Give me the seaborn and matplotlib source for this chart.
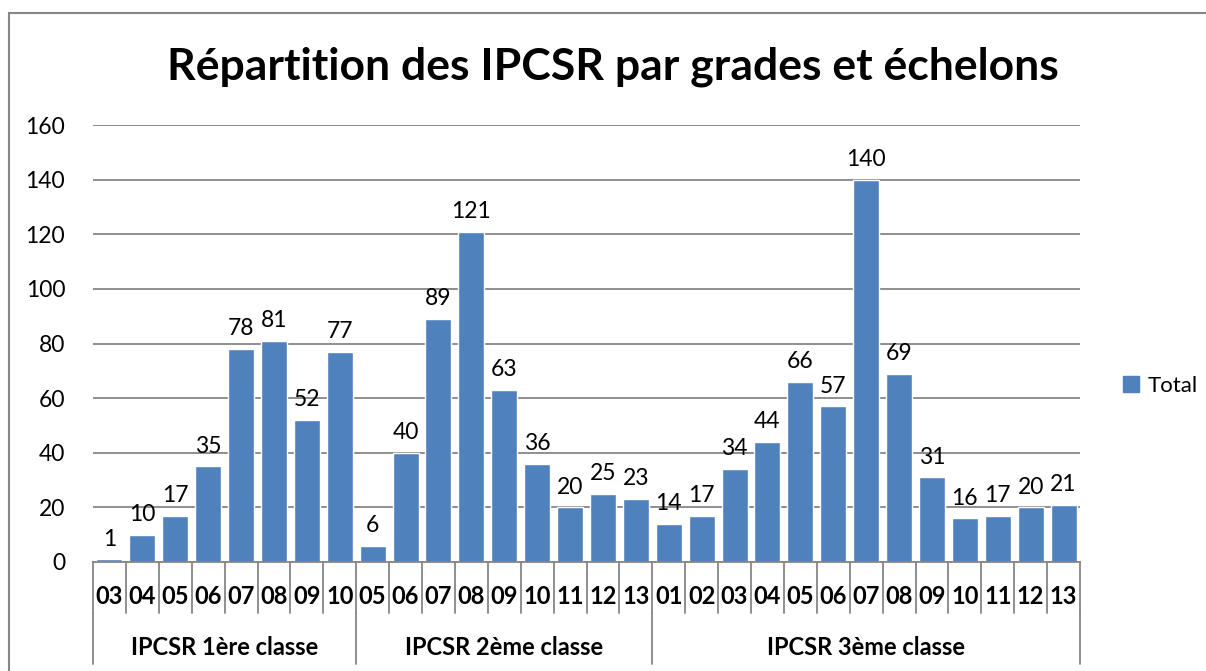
import pandas as pd
import matplotlib
matplotlib.use("Agg")
import matplotlib.pyplot as plt
import seaborn as sns
from matplotlib.patches import Rectangle, Patch

# Data
GRADES = ['IPCSR 1ère classe', 'IPCSR 2ème classe', 'IPCSR 3ème classe']
ECHELONS_1 = ['03', '04', '05', '06', '07', '08', '09', '10']
VALUES_1 = [1, 10, 17, 35, 78, 81, 52, 77]
ECHELONS_2 = ['05', '06', '07', '08', '09', '10', '11', '12', '13']
VALUES_2 = [6, 40, 89, 121, 63, 36, 20, 25, 23]
ECHELONS_3 = ['01', '02', '03', '04', '05', '06', '07', '08', '09', '10', '11', '12', '13']
VALUES_3 = [14, 17, 34, 44, 66, 57, 140, 69, 31, 16, 17, 20, 21]

BAR_COLOR = '#4F81BD'
GRID_COLOR = '#868686'
FONT = ['Lato', 'DejaVu Sans']

rows = []
for grade, echs, vals in zip(GRADES, [ECHELONS_1, ECHELONS_2, ECHELONS_3],
                             [VALUES_1, VALUES_2, VALUES_3]):
    for e, v in zip(echs, vals):
        rows.append({'grade': grade, 'echelon': e, 'key': f'{grade}|{e}', 'Total': v})
df = pd.DataFrame(rows)

sns.set_theme(style='white')
plt.rcParams['font.family'] = FONT
plt.rcParams['text.color'] = 'black'
plt.rcParams['ytick.color'] = 'black'

fig = plt.figure(figsize=(12.06, 6.71), dpi=100)
ax = fig.add_axes([93 / 1206, 1 - 562 / 671, (1080 - 93) / 1206, (562 - 125) / 671])

sns.barplot(data=df, x='key', y='Total', order=list(df['key']), color=BAR_COLOR,
            width=0.79, saturation=1, ax=ax)

ax.set_ylim(0, 160)
ax.set_xlim(-0.5, len(df) - 0.5)
ax.set_yticks(range(0, 161, 20))
ax.yaxis.grid(True, color=GRID_COLOR, linewidth=1.3)
ax.set_axisbelow(True)
for s in ['left', 'right', 'top']:
    ax.spines[s].set_visible(False)
ax.spines['bottom'].set_color(GRID_COLOR)
ax.spines['bottom'].set_linewidth(1.3)
ax.tick_params(axis='y', length=0, pad=20, labelsize=16.5, labelcolor='black')
ax.set_xticks([])
ax.set_xlabel('')
ax.set_ylabel('')

for c in ax.containers:
    ax.bar_label(c, fmt='%d', padding=7, fontsize=16.5, color='black')

# Multi-level category axis
trans = ax.get_xaxis_transform()
n = len(df)
for i in range(n + 1):
    ax.plot([i - 0.5, i - 0.5], [0, -0.117], transform=trans, color=GRID_COLOR,
            linewidth=1.3, clip_on=False)
for i, e in enumerate(df['echelon']):
    ax.text(i, -0.08, e, transform=trans, ha='center', va='center',
            fontsize=17, fontweight='bold', color='black')

start = 0
for grade in GRADES:
    cnt = int((df['grade'] == grade).sum())
    ax.plot([start - 0.5, start - 0.5], [-0.117, -0.233], transform=trans,
            color=GRID_COLOR, linewidth=1.3, clip_on=False)
    ax.text(start + (cnt - 1) / 2, -0.195, grade, transform=trans, ha='center',
            va='center', fontsize=17, fontweight='bold', color='black')
    start += cnt
ax.plot([start - 0.5, start - 0.5], [-0.117, -0.233], transform=trans,
        color=GRID_COLOR, linewidth=1.3, clip_on=False)

fig.text(613 / 1206, 1 - 67 / 671, 'Répartition des IPCSR par grades et échelons',
         ha='center', va='center', fontsize=32, fontweight='bold', color='black')

fig.legend(handles=[Patch(color=BAR_COLOR, label='Total')], loc='center left',
           bbox_to_anchor=(1103 / 1206, 1 - 386 / 671), frameon=False, fontsize=16,
           handlelength=0.7, handleheight=0.7, handletextpad=0.4)

fig.patches.append(Rectangle((9 / 1206, -0.1), 1.2, 1 - 13 / 671 + 0.1,
                             transform=fig.transFigure, fill=False,
                             edgecolor=GRID_COLOR, linewidth=1.5))

fig.savefig('out.png', dpi=100)
